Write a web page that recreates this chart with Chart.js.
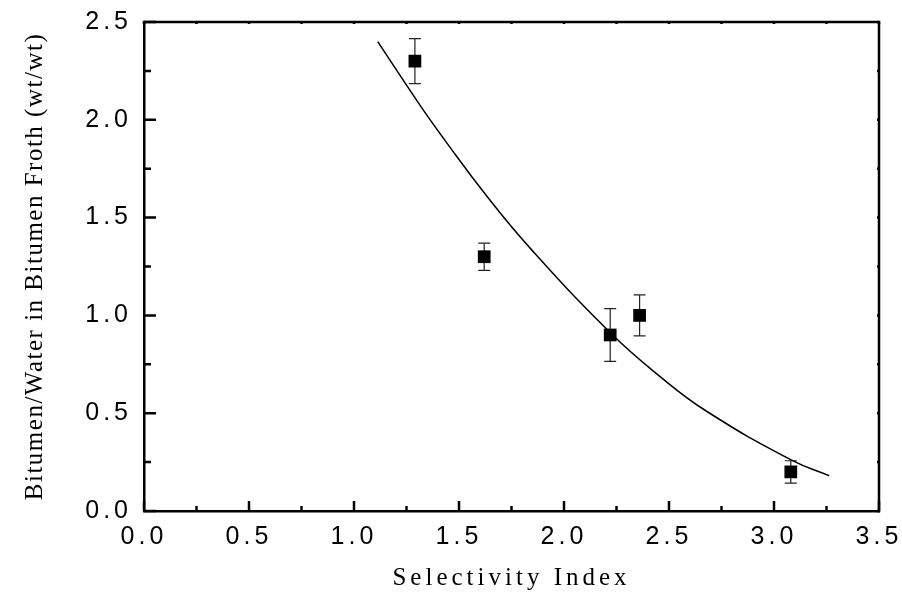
<!DOCTYPE html>
<html>
<head>
<meta charset="utf-8">
<title>Selectivity Index</title>
<script src="https://cdn.jsdelivr.net/npm/chart.js@4.4.1/dist/chart.umd.min.js"></script>
<style>
    html, body { margin: 0; padding: 0; background: #fff; }
    #contenedor { width: 902px; height: 601px; }
</style>
</head>
<body>
<div id="contenedor"><canvas id="grafica"></canvas></div>
<script>
/* ── Datos medidos (con barras de error) ── */
const selectividad = [1.29, 1.62, 2.22, 2.36, 3.08];
const relacionBW   = [2.30, 1.30, 0.90, 1.00, 0.20];
const errorBW      = [0.115, 0.07, 0.135, 0.105, 0.057];

/* ── Curva de ajuste ── */
const ajusteX = [1.113, 1.314, 1.433, 1.632, 1.846, 2.222, 2.449, 2.679, 3.084, 3.263];
const ajusteY = [2.40, 2.075, 1.895, 1.61, 1.335, 0.91, 0.695, 0.51, 0.26, 0.18];

/* ── Marcas de los ejes ── */
const ticksX   = [0, 0.5, 1.0, 1.5, 2.0, 2.5, 3.0, 3.5];
const ticksY   = [0, 0.5, 1.0, 1.5, 2.0, 2.5];
const menoresX = [0.25, 0.75, 1.25, 1.75, 2.25, 2.75, 3.25];
const menoresY = [0.25, 0.75, 1.25, 1.75, 2.25];

const fuenteNum   = 'Liberation Sans';
const fuenteTexto = 'Liberation Serif';

// El título Y se dibuja antes de los datasets (grid.z = -1) con poco espaciado;
// etiquetas y título X van después (z = 1) con letras más separadas.
const espaciado = {
    id: 'espaciado',
    beforeDraw(chart) {
        chart.ctx.letterSpacing = '1.5px';
    },
    afterDatasetsDraw(chart) {
        chart.ctx.letterSpacing = '4px';
    }
};

// barras de error verticales con remates
const barrasError = {
    id: 'barrasError',
    beforeDatasetsDraw(chart) {
        const { ctx, scales: { x, y } } = chart;
        ctx.save();
        ctx.strokeStyle = '#222';
        ctx.lineWidth = 1.2;
        selectividad.forEach((sx, i) => {
            const px  = x.getPixelForValue(sx);
            const top = y.getPixelForValue(relacionBW[i] + errorBW[i]);
            const bot = y.getPixelForValue(relacionBW[i] - errorBW[i]);
            ctx.beginPath();
            ctx.moveTo(px, top); ctx.lineTo(px, bot);
            ctx.moveTo(px - 6, top); ctx.lineTo(px + 6, top);
            ctx.moveTo(px - 6, bot); ctx.lineTo(px + 6, bot);
            ctx.stroke();
        });
        ctx.restore();
    }
};

// marco superior/derecho y marcas hacia adentro
const marco = {
    id: 'marco',
    afterDraw(chart) {
        const { ctx, chartArea: a, scales: { x, y } } = chart;
        ctx.save();
        ctx.strokeStyle = '#000';
        ctx.lineWidth = 2.5;
        ctx.beginPath();
        ctx.moveTo(a.left - 1.2, a.top); ctx.lineTo(a.right, a.top); ctx.lineTo(a.right, a.bottom + 1.2);
        ctx.stroke();

        const marcaX = (vals, largo, corto) => {
            vals.forEach(v => {
                const px = x.getPixelForValue(v);
                ctx.moveTo(px, a.bottom); ctx.lineTo(px, a.bottom - largo);
                ctx.moveTo(px, a.top);    ctx.lineTo(px, a.top + corto);
            });
        };
        const marcaY = (vals, largo, corto) => {
            vals.forEach(v => {
                const py = y.getPixelForValue(v);
                ctx.moveTo(a.left, py);  ctx.lineTo(a.left + largo, py);
                ctx.moveTo(a.right, py); ctx.lineTo(a.right - corto, py);
            });
        };
        ctx.beginPath();
        marcaX(ticksX, 10, 2);
        marcaX(menoresX, 5, 2);
        marcaY(ticksY, 12, 2);
        marcaY(menoresY, 7, 2);
        ctx.stroke();
        ctx.restore();
    }
};

// tamaño fijo de los ejes, sin el margen extra que reservan las etiquetas
const fijarEje = (ancho, alto) => s => {
    if (ancho) s.width = ancho;
    if (alto) s.height = alto;
    s.paddingTop = s.paddingBottom = s.paddingLeft = s.paddingRight = 0;
};

const canvas = document.getElementById('grafica');

new Chart(canvas, {
    type: 'scatter',
    data: {
        datasets: [{
            type: 'line',
            label: 'Ajuste',
            data: ajusteX.map((v, i) => ({ x: v, y: ajusteY[i] })),
            borderColor: '#000',
            borderWidth: 1.5,
            pointRadius: 0,
            fill: false,
            tension: 0.45,
        }, {
            label: 'Bitumen/Water',
            data: selectividad.map((v, i) => ({ x: v, y: relacionBW[i] })),
            pointStyle: 'rect',
            pointRadius: 9,
            backgroundColor: '#000',
            borderColor: '#000',
            borderWidth: 0,
        }]
    },
    options: {
        responsive: true,
        maintainAspectRatio: false,
        animation: false,
        layout: { padding: { top: 22, right: 23, left: 0, bottom: 0 } },
        plugins: {
            legend: { display: false },
            tooltip: { enabled: false }
        },
        scales: {
            x: {
                type: 'linear',
                min: 0, max: 3.5,
                afterBuildTicks: s => { s.ticks = ticksX.map(v => ({ value: v })); },
                afterFit: fijarEje(0, 90),
                // el borde necesita que la capa de la rejilla se dibuje antes
                grid: { display: false, drawTicks: false, z: 1 },
                border: { display: true, color: '#000', width: 2.5, z: 1 },
                ticks: {
                    z: 1,
                    color: '#000',
                    padding: 11,
                    maxRotation: 0,
                    font: { family: fuenteNum, size: 25 },
                    callback: v => v.toFixed(1)
                },
                title: {
                    display: true,
                    text: 'Selectivity Index',
                    color: '#000',
                    font: { family: fuenteTexto, size: 25 },
                    padding: { top: 0, bottom: 8 }
                }
            },
            y: {
                min: 0, max: 2.5,
                afterBuildTicks: s => { s.ticks = ticksY.map(v => ({ value: v })); },
                afterFit: fijarEje(144, 0),
                grid: { display: false, drawTicks: false, z: -1 },
                border: { display: true, color: '#000', width: 2.5 },
                ticks: {
                    z: 1,
                    color: '#000',
                    padding: 12,
                    font: { family: fuenteNum, size: 25 },
                    callback: v => v.toFixed(1)
                },
                title: {
                    display: true,
                    text: 'Bitumen/Water in Bitumen Froth (wt/wt)',
                    color: '#000',
                    font: { family: fuenteTexto, size: 25 },
                    padding: { top: 20, bottom: 0 }
                }
            }
        }
    },
    plugins: [espaciado, barrasError, marco]
});
</script>
</body>
</html>
